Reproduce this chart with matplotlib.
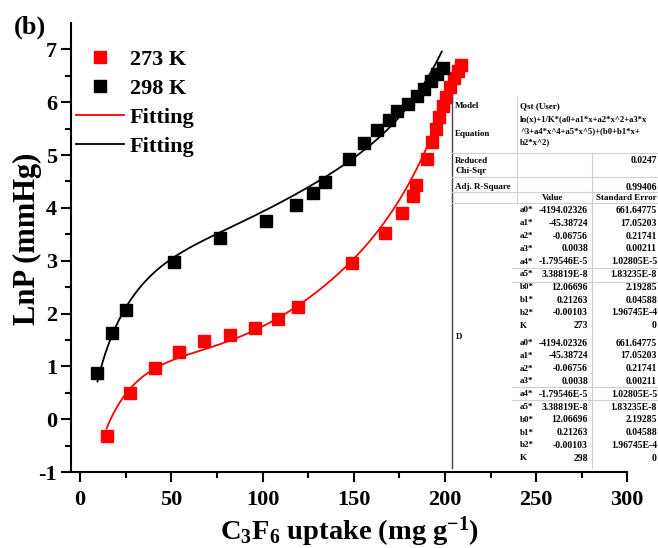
import numpy as np
import matplotlib
matplotlib.use("Agg")
import matplotlib.pyplot as plt
from matplotlib.lines import Line2D

plt.rcParams["font.family"] = "Liberation Serif"
plt.rcParams["font.weight"] = "bold"
plt.rcParams["mathtext.fontset"] = "custom"
plt.rcParams["mathtext.rm"] = "Liberation Serif:bold"
plt.rcParams["mathtext.it"] = "Liberation Serif:bold"
plt.rcParams["mathtext.default"] = "rm"
plt.rcParams["axes.unicode_minus"] = False

# C3F6 isotherms, ln P against uptake
uptake_273 = [14.5, 27.4, 41.1, 54.3, 68.0, 82.0, 95.8, 108.4, 119.2, 149.3, 167.0, 176.7,
              182.6, 184.4, 190.4, 192.7, 195.0, 196.8, 198.7, 200.5, 202.8, 205.0, 207.2, 209.0]
lnp_273 = [-0.32, 0.50, 0.97, 1.27, 1.48, 1.60, 1.73, 1.90, 2.12, 2.95, 3.52, 3.91,
           4.23, 4.44, 4.93, 5.24, 5.50, 5.72, 5.92, 6.10, 6.29, 6.45, 6.60, 6.70]

uptake_298 = [9.5, 17.4, 25.1, 51.2, 76.6, 101.8, 118.4, 127.7, 134.2, 147.5, 155.7, 163.0,
              169.4, 174.0, 179.8, 184.6, 188.6, 192.3, 195.9, 199.2]
lnp_298 = [0.88, 1.64, 2.06, 2.98, 3.43, 3.76, 4.06, 4.29, 4.49, 4.93, 5.22, 5.48,
           5.67, 5.84, 5.97, 6.12, 6.25, 6.40, 6.53, 6.65]

# uptake span covered by each fitted curve
fit_range_273 = (14.5, 206.5)
fit_range_298 = (9.5, 198.3)

# virial fit parameters (shared by both temperatures)
param_names = ["a0*", "a1*", "a2*", "a3*", "a4*", "a5*", "b0*", "b1*", "b2*"]
param_values = ["-4194.02326", "-45.38724", "-0.06756", "0.0038", "-1.79546E-5",
                "3.38819E-8", "12.06696", "0.21263", "-0.00103"]
param_errors = ["661.64775", "17.05203", "0.21741", "0.00211", "1.02805E-5",
                "1.83235E-8", "2.19285", "0.04588", "1.96745E-4"]
temps = [273, 298]
chi_sqr = "0.0247"
adj_r2 = "0.99406"


def virial(x, K):
    p = [float(v) for v in param_values]
    a = p[0] + p[1]*x + p[2]*x**2 + p[3]*x**3 + p[4]*x**4 + p[5]*x**5
    b = p[6] + p[7]*x + p[8]*x**2
    return np.log(x) + a / K + b


W, H = 658, 548
fig = plt.figure(figsize=(W/100, H/100), dpi=100)
ax = fig.add_axes([71/W, 76/H, 556.3/W, 449/H])

ax.plot(uptake_273, lnp_273, "s", color="#ff0000", ms=8.5, zorder=3)
ax.plot(uptake_298, lnp_298, "s", color="black", ms=8.5, zorder=3)

x1 = np.linspace(*fit_range_273, 400)
x2 = np.linspace(*fit_range_298, 400)
ax.plot(x1, virial(x1, temps[0]), color="#ff0000", lw=1.3, zorder=4)
ax.plot(x2, virial(x2, temps[1]), color="black", lw=1.3, zorder=4)

ax.set_xlim(-5, 300)
ax.set_ylim(-1, 7.5)
ax.set_xticks(np.arange(0, 301, 50))
ax.set_xticks(np.arange(25, 300, 50), minor=True)
ax.set_yticks(np.arange(-1, 8, 1))
ax.set_yticks(np.arange(-0.5, 7.5, 1), minor=True)
for s in ["top", "right"]:
    ax.spines[s].set_visible(False)
for s in ["left", "bottom"]:
    ax.spines[s].set_linewidth(1.5)
ax.tick_params(which="major", direction="out", length=7, width=1.5, labelsize=16)
ax.tick_params(which="minor", direction="out", length=4, width=1.5)
ax.tick_params(axis="x", pad=6)
ax.tick_params(axis="y", pad=3)
for lab in ax.get_xticklabels() + ax.get_yticklabels():
    lab.set_fontweight("bold")

ax.set_xlabel("C$_3$F$_6$ uptake (mg g$^{-1}$)", fontsize=20.5, fontweight="bold")
ax.xaxis.set_label_coords(0.5, -0.095)
ax.set_ylabel("LnP (mmHg)", fontsize=22, fontweight="bold")
ax.yaxis.set_label_coords(-0.052, 0.52)

handles = [
    Line2D([], [], ls="none", marker="s", color="#ff0000", ms=8.5),
    Line2D([], [], ls="none", marker="s", color="black", ms=8.5),
    Line2D([], [], color="#ff0000", lw=1.3),
    Line2D([], [], color="black", lw=1.3),
]
ax.legend(handles, ["273 K", "298 K", "Fitting", "Fitting"], loc="upper left",
          bbox_to_anchor=(76/W, 1 - 49/H), bbox_transform=fig.transFigure,
          frameon=False, handlelength=2.15, handletextpad=0.28,
          labelspacing=0.38, borderpad=0, borderaxespad=0,
          prop={"weight": "bold", "size": 16})

fig.text(14/W, 1 - 27/H, "(b)", fontsize=19, fontweight="bold", va="center", ha="left")


# fit report table on the right
def px(x, y):
    return x / W, 1 - y / H


def cell(x, y, s, ha="left", size=6.5):
    fig.text(*px(x, y), s, fontsize=size, fontweight="bold", ha=ha, va="center")


def hline(y, x0=452, x1=658, c="#d0d0d0"):
    fig.add_artist(Line2D([x0/W, x1/W], [1 - y/H, 1 - y/H], color=c, lw=0.8))


def vline(x, y0, y1, c="#d0d0d0", lw=0.8):
    fig.add_artist(Line2D([x/W, x/W], [1 - y0/H, 1 - y1/H], color=c, lw=lw))


vline(452, 97, 468, c="#444444", lw=1.0)
vline(517, 97, 203)
vline(592, 153, 468)
for y in [153, 177, 192, 203]:
    hline(y)
for y in [268, 281.5, 387, 400]:
    hline(y, x0=512)

cell(455, 106, "Model")
cell(520, 106, "Qst (User)")
cell(455, 134, "Equation")
cell(520, 119.5, "ln(x)+1/K*(a0+a1*x+a2*x^2+a3*x", size=6.2)
cell(520, 131, "^3+a4*x^4+a5*x^5)+(b0+b1*x+", size=6.2)
cell(520, 142.5, "b2*x^2)", size=6.2)
cell(455, 161, "Reduced")
cell(455, 171, "Chi-Sqr")
cell(657, 161, chi_sqr, ha="right", size=7.0)
cell(455, 187, "Adj. R-Square")
cell(657, 187, adj_r2, ha="right", size=7.0)
cell(553, 197.5, "Value", ha="center")
cell(626, 197.5, "Standard Error", ha="center")
cell(456, 337, "D")

for y0, K in [(210.5, temps[0]), (343, temps[1])]:
    rows = list(zip(param_names, param_values, param_errors)) + [("K", str(K), "0")]
    for i, (n, v, e) in enumerate(rows):
        y = y0 + 12.8 * i
        cell(520, y, n)
        cell(588, y, v, ha="right", size=7.0)
        cell(657, y, e, ha="right", size=7.0)

fig.savefig("out.png", dpi=100)
